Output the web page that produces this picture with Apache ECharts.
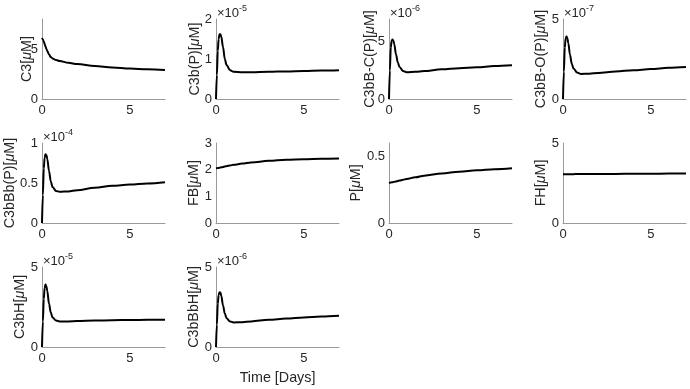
<!DOCTYPE html>
<html>
<head>
<meta charset="utf-8">
<script src="https://cdn.jsdelivr.net/npm/echarts@6/dist/echarts.min.js"></script>
<style>
  html, body { margin: 0; padding: 0; background: #fff; }
  #chart { width: 690px; height: 389px; }
</style>
</head>
<body>
<div id="chart"></div>
<script>
// time points [days]
const days = [0, 0.05, 0.1, 0.15, 0.2, 0.25, 0.3, 0.4, 0.5, 0.6, 0.8, 1, 1.5, 2, 3, 4, 5, 6, 7];

// values as shown on each axis (mantissa, the exponent is in expo below)
const c3 = [6.1, 5.95, 5.75, 5.5, 5.25, 5.0, 4.8, 4.45, 4.2, 4.05, 3.9, 3.8, 3.62, 3.5, 3.3, 3.15, 3.05, 2.97, 2.9];
const c3bP = [0, 0.6, 1.2, 1.5, 1.62, 1.62, 1.56, 1.3, 1.0, 0.85, 0.72, 0.68, 0.67, 0.67, 0.68, 0.69, 0.7, 0.71, 0.72];
const c3bBC = [0, 2.5, 4.5, 5.1, 5.2, 5.1, 4.8, 3.9, 3.2, 2.8, 2.45, 2.35, 2.38, 2.45, 2.6, 2.7, 2.78, 2.88, 2.95];
const c3bBO = [0, 1.7, 3.2, 3.8, 3.9, 3.8, 3.5, 2.75, 2.2, 1.9, 1.65, 1.57, 1.58, 1.63, 1.72, 1.8, 1.87, 1.95, 2.0];
const c3bBbP = [0, 0.35, 0.68, 0.82, 0.86, 0.85, 0.8, 0.65, 0.52, 0.45, 0.4, 0.39, 0.395, 0.41, 0.44, 0.465, 0.48, 0.495, 0.51];
const fb = [2.05, 2.055, 2.06, 2.067, 2.073, 2.08, 2.087, 2.1, 2.12, 2.13, 2.16, 2.18, 2.23, 2.27, 2.33, 2.37, 2.39, 2.41, 2.42];
const p = [0.3, 0.302, 0.303, 0.305, 0.306, 0.308, 0.309, 0.312, 0.315, 0.318, 0.324, 0.33, 0.343, 0.355, 0.372, 0.385, 0.395, 0.403, 0.41];
const fh = [3.05, 3.05, 3.05, 3.05, 3.05, 3.05, 3.05, 3.05, 3.05, 3.05, 3.06, 3.06, 3.06, 3.07, 3.07, 3.08, 3.08, 3.09, 3.1];
const c3bH = [0, 1.6, 3.0, 3.7, 3.9, 3.8, 3.5, 2.7, 2.15, 1.85, 1.65, 1.6, 1.6, 1.62, 1.65, 1.67, 1.69, 1.7, 1.71];
const c3bBbH = [0, 1.4, 2.7, 3.25, 3.42, 3.4, 3.2, 2.6, 2.1, 1.8, 1.6, 1.53, 1.55, 1.6, 1.7, 1.78, 1.85, 1.9, 1.95];

const labels = ['C3', 'C3b(P)', 'C3bB-C(P)', 'C3bB-O(P)', 'C3bBb(P)', 'FB', 'P', 'FH', 'C3bH', 'C3bBbH'];
const seriesData = [c3, c3bP, c3bBC, c3bBO, c3bBbP, fb, p, fh, c3bH, c3bBbH];
const expo = [null, '-5', '-6', '-7', '-4', null, null, null, '-5', '-6'];
const yMax = [8, 2, 7, 5, 1, 3, 0.6, 5, 5, 5];
const yStep = [5, 1, 5, 5, 0.5, 1, 0.5, 5, 5, 5];
const xTicks = [0, 5];

// layout
const colLeft = [42, 216, 389, 563];
const rowTop = [19, 143, 267];
const plotW = 123, plotH = 80;
const nameGaps = [8, 13.5, 12, 14.5, 24.5, 15, 25.5, 14.5, 14.5, 15];

const font = '"Liberation Sans", Arial, Helvetica, sans-serif';
const txt = '#262626';
const nameSize = 14.3;

let grid = [], xAxis = [], yAxis = [], series = [], graphic = [];

for (let i = 0; i < labels.length; i++) {
  const left = colLeft[i % 4];
  const top = rowTop[Math.floor(i / 4)];
  grid.push({ left: left, top: top, width: plotW, height: plotH });

  xAxis.push({
    type: 'value', gridIndex: i, min: 0, max: 7, interval: 5,
    axisLine: { lineStyle: { color: '#9a9a9a', width: 1 } },
    axisTick: { show: false },
    splitLine: { show: false },
    axisLabel: {
      color: txt, fontFamily: font, fontSize: 13, margin: 5, showMaxLabel: false,
      formatter: v => (xTicks.indexOf(v) >= 0 ? String(v) : '')
    },
    name: i === 9 ? 'Time [Days]' : '',
    nameLocation: 'middle', nameGap: 24, nameMoveOverlap: false,
    nameTextStyle: { color: txt, fontFamily: font, fontSize: nameSize }
  });

  const step = yStep[i];
  yAxis.push({
    type: 'value', gridIndex: i, min: 0, max: yMax[i], interval: step,
    axisLine: { show: true, lineStyle: { color: '#9a9a9a', width: 1 } },
    axisTick: { show: false },
    splitLine: { show: false },
    axisLabel: {
      color: txt, fontFamily: font, fontSize: 13, margin: 4,
      formatter: v => {
        const k = v / step;
        return Math.abs(k - Math.round(k)) < 1e-6 ? String(+v.toFixed(2)) : '';
      }
    },
    name: labels[i] + '[{i|μ}M]',
    nameLocation: 'middle', nameGap: nameGaps[i], nameMoveOverlap: false,
    nameTextStyle: {
      color: txt, fontFamily: font, fontSize: nameSize,
      rich: { i: { fontStyle: 'italic', fontFamily: font, fontSize: nameSize, color: txt } }
    }
  });

  series.push({
    type: 'line', xAxisIndex: i, yAxisIndex: i,
    data: days.map((d, j) => [d, seriesData[i][j]]),
    showSymbol: false, smooth: 0.35, smoothMonotone: 'x',
    lineStyle: { color: '#000', width: 2 },
    silent: true
  });

  if (expo[i]) {
    graphic.push({
      type: 'text', left: left + 1, top: top - 15,
      style: {
        text: '×10{s|' + expo[i] + '}',
        fill: txt, font: '13px ' + font,
        rich: { s: { fontSize: 9, fontFamily: font, fill: txt, padding: [0, 0, 10, 0] } }
      }
    });
  }
}

const chart = echarts.init(document.getElementById('chart'));
chart.setOption({
  animation: false,
  backgroundColor: '#fff',
  grid: grid,
  xAxis: xAxis,
  yAxis: yAxis,
  series: series,
  graphic: graphic
});
</script>
</body>
</html>
